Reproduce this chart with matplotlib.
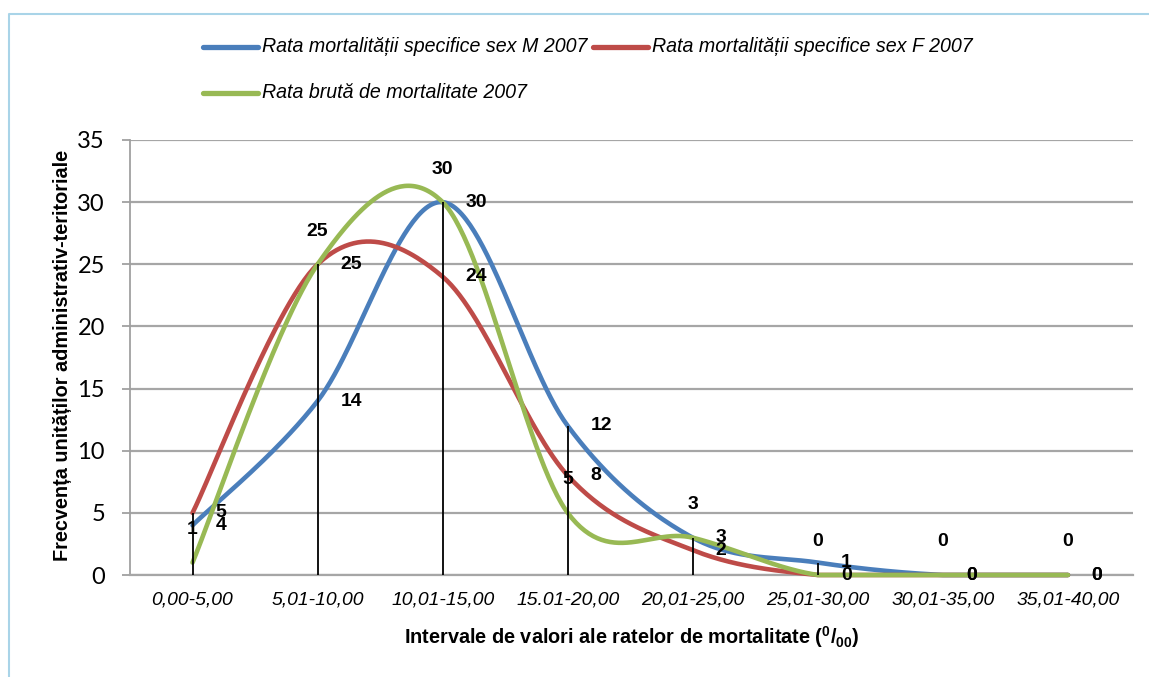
import numpy as np
import matplotlib
matplotlib.use("Agg")
import matplotlib.pyplot as plt
from matplotlib.lines import Line2D
from matplotlib import transforms, font_manager

# ---------------- data ----------------
categories = ["0,00-5,00", "5,01-10,00", "10,01-15,00", "15.01-20,00",
              "20,01-25,00", "25,01-30,00", "30,01-35,00", "35,01-40,00"]
rata_m = [4, 14, 30, 12, 3, 1, 0, 0]
rata_f = [5, 25, 24, 8, 2, 0, 0, 0]
rata_bruta = [1, 25, 30, 5, 3, 0, 0, 0]
series_names = ["Rata mortalității specifice sex M 2007",
                "Rata mortalității specifice sex F 2007",
                "Rata brută de mortalitate 2007"]
y_ticks = [0, 5, 10, 15, 20, 25, 30, 35]
x_title_main = "Intervale de valori ale ratelor de mortalitate"
y_title = "Frecvența unităților administrativ-teritoriale"

col_m = "#4A7EBB"
col_f = "#BE4B48"
col_b = "#98B954"

available = {f.name for f in font_manager.fontManager.ttflist}
NARROW = 'Liberation Sans Narrow' if 'Liberation Sans Narrow' in available else 'Liberation Sans'
scale = 1.0 if NARROW == 'Liberation Sans Narrow' else 0.82

plt.rcParams['font.family'] = [NARROW, 'DejaVu Sans']
plt.rcParams['mathtext.fontset'] = 'custom'
plt.rcParams['mathtext.rm'] = NARROW + ':bold'
plt.rcParams['mathtext.it'] = NARROW + ':bold'
plt.rcParams['mathtext.bf'] = NARROW + ':bold'

x_title = x_title_main + r" ($^{0}$/$_{00}$)"

W, H = 1149, 677
fig = plt.figure(figsize=(W / 100, H / 100), dpi=100)
fig.patch.set_facecolor("white")


def fx(px):
    return px / W


def fy(py):
    return 1 - py / H


ax = fig.add_axes([fx(130), fy(575), fx(1133) - fx(130), fy(140) - fy(575)])


def excel_smooth(vals, n_seg=60):
    v = np.asarray(vals, float)
    n = len(v)
    xs, ys = [], []
    t = np.linspace(0, 1, n_seg)
    for i in range(n - 1):
        i0, i3 = max(i - 1, 0), min(i + 2, n - 1)
        p0x, p0y = i0, v[i0]
        p1x, p1y = i, v[i]
        p2x, p2y = i + 1, v[i + 1]
        p3x, p3y = i3, v[i3]
        c1x = p1x + (p2x - p0x) / 6
        c1y = p1y + (p2y - p0y) / 6
        c2x = p2x - (p3x - p1x) / 6
        c2y = p2y - (p3y - p1y) / 6
        bx = ((1 - t) ** 3 * p1x + 3 * (1 - t) ** 2 * t * c1x
              + 3 * (1 - t) * t ** 2 * c2x + t ** 3 * p2x)
        by = ((1 - t) ** 3 * p1y + 3 * (1 - t) ** 2 * t * c1y
              + 3 * (1 - t) * t ** 2 * c2y + t ** 3 * p2y)
        xs.append(bx)
        ys.append(by)
    return np.concatenate(xs), np.maximum(np.concatenate(ys), 0)


x = np.arange(len(categories))
for vals, col in [(rata_m, col_m), (rata_f, col_f), (rata_bruta, col_b)]:
    sx, sy = excel_smooth(vals)
    ax.plot(sx, sy, color=col, lw=3.3, solid_capstyle='round', clip_on=False, zorder=3)

# drop lines
top = np.max(np.array([rata_m, rata_f, rata_bruta]), axis=0)
ax.vlines(x, 0, top, color="black", lw=1.3, zorder=4)

ax.set_xlim(-0.5, 7.52)
ax.set_ylim(0, 35)
ax.set_yticks(y_ticks)
ax.set_yticklabels([str(v) for v in y_ticks], fontfamily='Lato', fontsize=17)
ax.set_xticks(x)
ax.set_xticklabels(categories, fontstyle='italic', fontsize=17 * scale)
ax.tick_params(axis='x', length=0, pad=12)
ax.tick_params(axis='y', length=6, width=1.3, color='#A0A0A0', direction='out', pad=12)
ax.grid(axis='y', color='#A6A6A6', lw=1.6, zorder=1)
ax.set_axisbelow(True)
for s in ['top', 'right']:
    ax.spines[s].set_visible(False)
ax.spines['left'].set_color('#A0A0A0')
ax.spines['left'].set_linewidth(1.3)
ax.spines['bottom'].set_color('#A6A6A6')
ax.spines['bottom'].set_linewidth(1.6)

# data labels
dpi = fig.dpi
lab_fs = 17 * scale
for vals in (rata_m, rata_f):
    for xi, v in zip(x, vals):
        tr = ax.transData + transforms.ScaledTranslation(23 / dpi, 0, fig.dpi_scale_trans)
        ax.text(xi, v, str(v), transform=tr, ha='left', va='center',
                fontsize=lab_fs, fontweight='bold', zorder=6, clip_on=False)
for xi, v in zip(x, rata_bruta):
    tr = ax.transData + transforms.ScaledTranslation(0, 33 / dpi, fig.dpi_scale_trans)
    ax.text(xi, v, str(v), transform=tr, ha='center', va='center',
            fontsize=lab_fs, fontweight='bold', zorder=6, clip_on=False)

# axis titles
fig.text(fx(632), fy(637), x_title, ha='center', va='center', fontsize=17.5 * scale,
         fontweight='bold')
fig.text(fx(63), fy(355), y_title, ha='center', va='center', rotation=90,
         fontsize=17.5 * scale, fontweight='bold')

# legend (manual)
leg = [(203, 47, col_m, series_names[0]), (593, 47, col_f, series_names[1]),
       (203, 93, col_b, series_names[2])]
for px, py, col, name in leg:
    fig.add_artist(Line2D([fx(px), fx(px + 55)], [fy(py), fy(py)], color=col, lw=3.8,
                          solid_capstyle='round'))
    fig.text(fx(px + 59), fy(py), name, ha='left', va='center', fontsize=17.3 * scale,
             fontstyle='italic')

# border
fig.add_artist(Line2D([fx(9), fx(9), fx(W)], [0, fy(14), fy(14)], color='#A9D4E8', lw=1.5))

fig.savefig("out.png", dpi=100)
